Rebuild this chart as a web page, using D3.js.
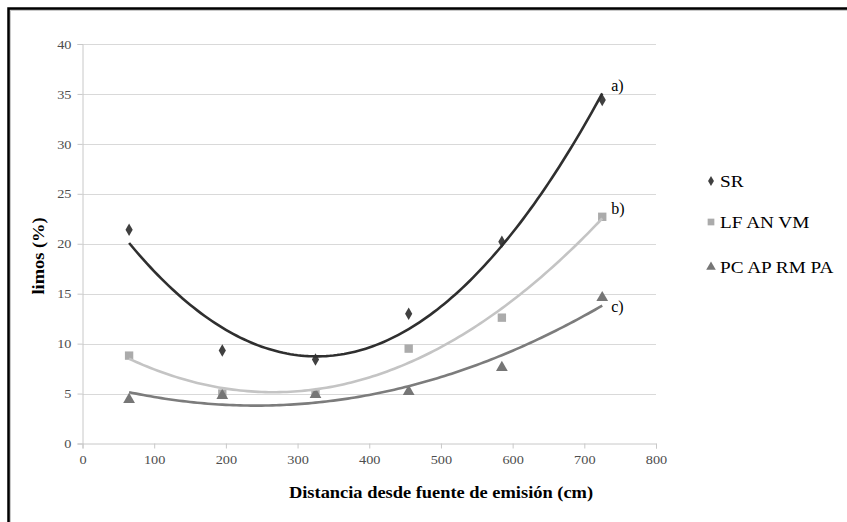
<!DOCTYPE html>
<html>
<head>
<meta charset="utf-8">
<script src="https://d3js.org/d3.v7.min.js"></script>
<style>
  body { margin:0; background:#fff; }
  svg text { font-family:"Liberation Serif","Times New Roman","DejaVu Serif",serif; }
  .tick text { font-size:13px; fill:#4d4d4d; }
  .title { font-weight:bold; font-size:16px; fill:#000; }
  .leg { font-size:16px; fill:#000; }
  .lab { font-size:16px; fill:#000; }
</style>
</head>
<body>
<script>
var width=847,height=522;

// distances (cm)
var distancia=[65,195,325,455,585,725];
var seriesNames=["SR","LF AN VM","PC AP RM PA"];
var sr=[21.4,9.3,8.4,13.0,20.2,34.4];
var lf=[8.8,5.0,5.0,9.5,12.6,22.7];
var pc=[4.4,4.8,4.9,5.2,7.6,14.6];
var curveLabels=["a)","b)","c)"];
var xTicks=[0,100,200,300,400,500,600,700,800];
var yTicks=[0,5,10,15,20,25,30,35,40];

var markerColor=["#404040","#ababab","#767676"];
var lineColor=["#2f2f2f","#c4c4c4","#7c7c7c"];
var symbols=[d3.symbolDiamond,d3.symbolSquare,d3.symbolTriangle];
var symSize=[45,70,60];

var svg=d3.select("body").append("svg")
  .attr("width",width).attr("height",height);

// frame of the figure
svg.append("path").attr("d","M10,"+height+" V10 H"+width)
  .attr("fill","none").attr("stroke","#c8c8c8").attr("stroke-width",2);
svg.append("path").attr("d","M8.5,"+height+" V8.5 H"+width)
  .attr("fill","none").attr("stroke","#000").attr("stroke-width",2.5);

var x=d3.scaleLinear().domain([0,800]).range([82.5,656]);
var y=d3.scaleLinear().domain([0,40]).range([443.5,44]);

// grid
svg.append("g").selectAll("line").data(yTicks.slice(1)).enter().append("line")
  .attr("x1",x(0)).attr("x2",x(800))
  .attr("y1",function(d){return Math.round(y(d))+0.5;})
  .attr("y2",function(d){return Math.round(y(d))+0.5;})
  .attr("stroke","#d9d9d9").attr("stroke-width",1.2);

var yAxis=svg.append("g").attr("transform","translate("+x(0)+",0)")
  .call(d3.axisLeft(y).tickValues(yTicks).tickSize(5).tickPadding(6));
var xAxis=svg.append("g").attr("transform","translate(0,"+y(0)+")")
  .call(d3.axisBottom(x).tickValues(xTicks).tickSize(5).tickPadding(6));
svg.selectAll("g").attr("font-family",null);
svg.selectAll(".domain").attr("stroke","#c8c8c8");
svg.selectAll(".tick line").attr("stroke","#c8c8c8");

// quadratic least squares trendline
function fit2(xs,ys){
  var s=[0,0,0,0,0],t=[0,0,0];
  xs.forEach(function(v,i){
    for(var k=0;k<5;k++) s[k]+=Math.pow(v,k);
    for(var k=0;k<3;k++) t[k]+=Math.pow(v,k)*ys[i];
  });
  var A=[[s[0],s[1],s[2],t[0]],[s[1],s[2],s[3],t[1]],[s[2],s[3],s[4],t[2]]];
  for(var i=0;i<3;i++){
    for(var j=i+1;j<3;j++){
      var f=A[j][i]/A[i][i];
      for(var k=i;k<4;k++) A[j][k]-=f*A[i][k];
    }
  }
  var c=[0,0,0];
  for(var i=2;i>=0;i--){
    var sum=A[i][3];
    for(var k=i+1;k<3;k++) sum-=A[i][k]*c[k];
    c[i]=sum/A[i][i];
  }
  return function(v){return c[0]+c[1]*v+c[2]*v*v;};
}

var allSeries=[sr,lf,pc];
var line=d3.line().x(function(d){return x(d[0]);}).y(function(d){return y(d[1]);});
var xs=d3.range(distancia[0],distancia[distancia.length-1]+0.1,5);

// markers first, then lines on top
allSeries.forEach(function(vals,i){
  svg.append("g").selectAll("path").data(vals).enter().append("path")
    .attr("d",d3.symbol().type(symbols[i]).size(symSize[i]))
    .attr("transform",function(d,j){return "translate("+x(distancia[j])+","+y(d)+")";})
    .attr("fill",markerColor[i]);
});
[2,1,0].forEach(function(i){
  var f=fit2(distancia,allSeries[i]);
  var pts=xs.map(function(v){return [v,f(v)];});
  svg.append("path").datum(pts).attr("d",line)
    .attr("fill","none").attr("stroke",lineColor[i]).attr("stroke-width",2.6);
  var last=pts[pts.length-1];
  svg.append("text").classed("lab",true)
    .attr("x",x(last[0])+9)
    .attr("y",y(last[1])+[-2,-4,6][i])
    .text(curveLabels[i]);
});

// legend
var legend=svg.append("g").selectAll("g").data(seriesNames).enter().append("g")
  .attr("transform",function(d,i){return "translate(711,"+[181,222,267][i]+")";});
legend.append("path")
  .attr("d",function(d,i){return d3.symbol().type(symbols[i]).size([30,45,40][i])();})
  .attr("fill",function(d,i){return markerColor[i];});
legend.append("text").classed("leg",true).attr("x",9).attr("y",5.5)
  .text(function(d){return d;});

// axis titles
svg.append("text").classed("title",true)
  .attr("transform","translate(44,256) rotate(-90)")
  .attr("text-anchor","middle").text("limos (%)");
svg.append("text").classed("title",true)
  .attr("x",441).attr("y",498).attr("text-anchor","middle")
  .text("Distancia desde fuente de emisión (cm)");

// the scanned figure is a bit wider than the font: stretch the texts
function stretch(sel,k){
  sel.each(function(){
    var w=this.getComputedTextLength();
    d3.select(this).attr("textLength",w*k).attr("lengthAdjust","spacingAndGlyphs");
  });
}
stretch(svg.selectAll(".title"),1.15);
stretch(svg.selectAll(".leg"),1.2);
stretch(svg.selectAll(".tick text"),1.1);
</script>
</body>
</html>
